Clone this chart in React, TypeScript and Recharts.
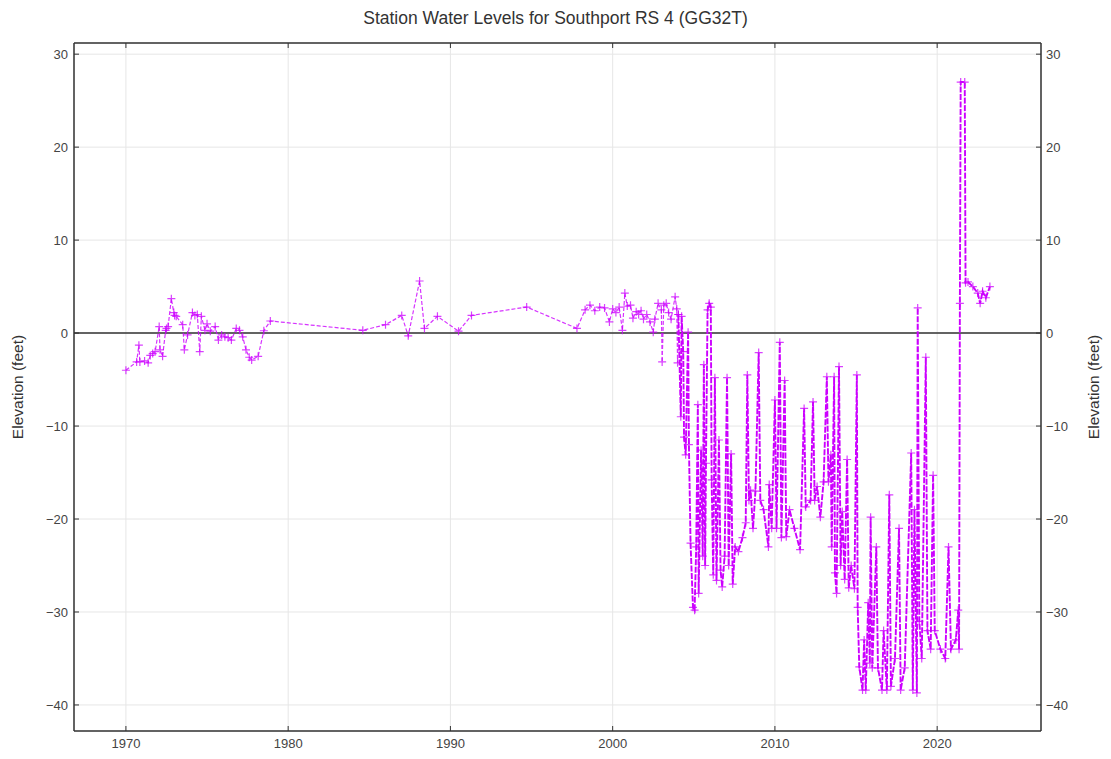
import React from 'react';
import { LineChart, Line, XAxis, YAxis, CartesianGrid, ReferenceLine } from 'recharts';

// measurement dates (decimal years) and water elevation (feet)
const years = [
  1970.0, 1970.66, 1970.8, 1970.86, 1971.15, 1971.37, 1971.5, 1971.65, 1971.8, 1972.05,
  1972.1, 1972.26, 1972.45, 1972.5, 1972.6, 1972.8, 1972.95, 1973.0, 1973.1, 1973.5,
  1973.6, 1973.8, 1974.1, 1974.25, 1974.4, 1974.55, 1974.65, 1974.87, 1975.0, 1975.2,
  1975.5, 1975.7, 1975.9, 1976.1, 1976.3, 1976.5, 1976.8, 1977.0, 1977.2, 1977.4,
  1977.6, 1977.75, 1978.15, 1978.5, 1978.9,
  1984.6, 1986.0, 1987.0, 1987.4, 1988.1, 1988.4, 1989.2, 1990.5, 1991.3, 1994.7,
  1997.8, 1998.3, 1998.6, 1998.9, 1999.2, 1999.5, 1999.8, 2000.0, 2000.2, 2000.4,
  2000.6, 2000.75, 2000.9, 2001.1, 2001.25, 2001.45, 2001.6, 2001.75, 2001.9, 2002.1,
  2002.3, 2002.5, 2002.6, 2002.8, 2003.0, 2003.05, 2003.15, 2003.3, 2003.45, 2003.6,
  2003.85, 2003.95, 2004.0, 2004.05, 2004.2, 2004.25, 2004.35, 2004.4, 2004.5, 2004.65,
  2004.7, 2004.8, 2004.95, 2005.05, 2005.15, 2005.25, 2005.3, 2005.45, 2005.55, 2005.62,
  2005.7, 2005.75, 2005.85, 2005.95, 2006.05, 2006.1, 2006.2, 2006.3, 2006.4, 2006.55,
  2006.65, 2006.75, 2006.9, 2007.05, 2007.15, 2007.3, 2007.4, 2007.55, 2007.75, 2008.0,
  2008.2, 2008.3, 2008.4, 2008.5, 2008.65, 2008.8, 2009.0, 2009.1, 2009.3, 2009.6,
  2009.65, 2009.8, 2010.0, 2010.1, 2010.3, 2010.4, 2010.6, 2010.7, 2010.9, 2011.2,
  2011.55, 2011.8, 2011.9, 2012.2, 2012.35, 2012.45, 2012.6, 2012.8, 2013.0, 2013.2,
  2013.3, 2013.45, 2013.5, 2013.65, 2013.7, 2013.8, 2013.95, 2014.05, 2014.15, 2014.3,
  2014.45, 2014.55, 2014.7, 2014.9, 2015.05, 2015.1, 2015.2, 2015.4, 2015.5, 2015.6,
  2015.75, 2015.85, 2015.9, 2016.0, 2016.25, 2016.35, 2016.6, 2016.7, 2016.9, 2017.05,
  2017.15, 2017.4, 2017.65, 2017.75, 2018.0, 2018.4, 2018.5, 2018.6, 2018.75, 2018.8,
  2018.9, 2019.05, 2019.3, 2019.4, 2019.6, 2019.75, 2019.85, 2020.2, 2020.5, 2020.7,
  2020.85, 2021.15, 2021.3, 2021.35, 2021.4, 2021.45, 2021.7, 2021.75, 2021.9, 2022.2,
  2022.5, 2022.65, 2022.8, 2023.0, 2023.25,
];

const levels = [
  -4.0, -3.1, -1.3, -3.1, -3.0, -3.2, -2.4, -2.2, -2.0, 0.7,
  -1.8, -2.5, 0.3, 0.5, 0.7, 3.7, 2.2, 1.9, 1.8, 0.9,
  -1.8, -0.2, 2.2, 1.9, 2.0, -2.0, 1.8, 0.3, 1.0, 0.2,
  0.7, -0.75, -0.2, -0.4, -0.5, -0.75, 0.5, 0.3, -0.4, -1.8,
  -2.6, -2.9, -2.5, 0.25, 1.3,
  0.3, 0.9, 1.9, -0.3, 5.6, 0.5, 1.8, 0.2, 1.9, 2.8,
  0.5, 2.5, 3.0, 2.4, 2.8, 2.7, 1.2, 2.6, 2.2, 2.8,
  0.3, 4.3, 2.9, 3.0, 1.6, 2.3, 2.0, 2.4, 1.5, 2.0,
  1.2, 0.1, 1.5, 3.2, 2.5, -3.1, 3.0, 3.2, 2.2, 1.5,
  3.9, 2.6, -3.2, 2.0, -9.0, 1.8, -2.0, -11.2, -13.1, 0.1,
  -12.0, -22.6, -29.5, -29.8, -23.0, -7.7, -28.0, -12.6, -24.0, -3.4,
  -25.0, -14.0, 2.5, 3.2, 2.8, -15.8, -26.0, -4.8, -26.6, -11.5,
  -25.5, -27.3, -24.0, -4.8, -25.0, -13.0, -27.0, -23.0, -23.5, -22.0,
  -20.4, -4.5, -18.0, -16.9, -21.0, -17.0, -2.1, -18.0, -19.0, -23.0,
  -16.3, -21.0, -7.2, -21.0, -1.0, -22.0, -5.1, -21.9, -19.0, -21.0,
  -23.3, -8.1, -18.7, -18.0, -7.4, -18.0, -16.5, -19.8, -16.0, -4.7,
  -16.0, -13.1, -23.0, -4.7, -25.8, -28.0, -3.6, -25.0, -19.2, -26.5,
  -13.6, -27.4, -25.0, -27.5, -4.5, -29.5, -35.9, -38.4, -33.0, -38.4,
  -29.0, -35.5, -19.8, -36.0, -23.0, -36.0, -38.4, -32.0, -38.4, -17.4,
  -38.0, -35.0, -21.0, -38.4, -36.0, -12.9, -38.4, -19.0, -38.7, 2.7,
  -31.0, -35.0, -2.6, -32.0, -34.0, -15.3, -32.0, -34.0, -35.0, -23.0,
  -34.0, -33.0, -29.8, -34.0, 3.2, 27.0, 27.0, 5.4, 5.5, 5.0,
  4.3, 3.2, 4.5, 3.8, 5.0,
];

const xTicks = [1970, 1980, 1990, 2000, 2010, 2020];
const yTicks = [-40, -30, -20, -10, 0, 10, 20, 30];

// the record gets dense (weekly readings) from mid-2004 on; draw that part heavier
const DENSE_FROM = 2004.05;

const data = years.map((year, i) => ({
  year,
  level: levels[i],
  sparse: year <= DENSE_FROM ? levels[i] : null,
  dense: year >= DENSE_FROM ? levels[i] : null,
}));

const LINE_COLOR = '#cc00ff';
const AXIS_COLOR = '#333';
const FONT = '"Liberation Sans", Arial, sans-serif';

const fmt = (v: number) => (v < 0 ? `\u2212${Math.abs(v)}` : `${v}`);

const PlusDot = (props: any) => {
  const { cx, cy, index, value } = props;
  if (cx == null || cy == null || value == null) return <g key={index} />;
  return (
    <path
      key={index}
      d={`M${cx - 4},${cy}h8M${cx},${cy - 4}v8`}
      stroke={LINE_COLOR}
      strokeOpacity={0.75}
      strokeWidth={1.2}
      fill="none"
    />
  );
};

const BottomTick = ({ x, y, payload }: any) => (
  <g>
    <line x1={x} x2={x} y1={y - 7} y2={y - 12} stroke={AXIS_COLOR} />
    <text x={x} y={y} dy="0.8em" textAnchor="middle" fill="#444" fontSize={13} fontFamily={FONT}>
      {payload.value}
    </text>
  </g>
);

const TopTick = ({ x, y }: any) => <line x1={x} x2={x} y1={y} y2={y + 5} stroke={AXIS_COLOR} />;

const LeftTick = ({ x, y, payload }: any) => (
  <g>
    <line x1={x + 6} x2={x + 11} y1={y} y2={y} stroke={AXIS_COLOR} />
    <text x={x} y={y} dy="0.35em" textAnchor="end" fill="#444" fontSize={13} fontFamily={FONT}>
      {fmt(payload.value)}
    </text>
  </g>
);

const RightTick = ({ x, y, payload }: any) => (
  <g>
    <line x1={x - 5} x2={x - 10} y1={y} y2={y} stroke={AXIS_COLOR} />
    <text x={x} y={y} dy="0.35em" textAnchor="start" fill="#444" fontSize={13} fontFamily={FONT}>
      {fmt(payload.value)}
    </text>
  </g>
);

const axisLabel: React.CSSProperties = {
  position: 'absolute',
  top: 379,
  transform: 'translate(-50%, -50%) rotate(-90deg)',
  whiteSpace: 'nowrap',
  fontSize: 15.5,
  color: '#333',
  fontFamily: FONT,
};

export default function App() {
  return (
    <div style={{ position: 'relative', width: 1095, height: 751, fontFamily: FONT }}>
      <div
        style={{
          position: 'absolute',
          top: 0,
          left: 0,
          width: 1095,
          textAlign: 'center',
          fontSize: 17.5,
          lineHeight: '21px',
          color: '#333',
        }}
      >
        Station Water Levels for Southport RS 4 (GG32T)
      </div>
      <div style={{ ...axisLabel, left: 10 }}>Elevation (feet)</div>
      <div style={{ ...axisLabel, left: 1086 }}>Elevation (feet)</div>
      <LineChart width={1095} height={751} data={data} margin={{ top: 34, right: 16, bottom: 0, left: 20 }}>
        <CartesianGrid xAxisId="bottom" yAxisId="left" stroke="#e6e6e6" strokeWidth={1} />
        <XAxis
          xAxisId="bottom"
          dataKey="year"
          type="number"
          domain={[1966.8, 2026.4]}
          ticks={xTicks}
          allowDataOverflow
          height={28}
          stroke={AXIS_COLOR}
          strokeWidth={1.5}
          tickSize={0}
          tickMargin={7}
          tick={BottomTick}
        />
        <XAxis
          xAxisId="top"
          orientation="top"
          dataKey="year"
          type="number"
          domain={[1966.8, 2026.4]}
          ticks={xTicks}
          allowDataOverflow
          height={1}
          stroke={AXIS_COLOR}
          strokeWidth={1.5}
          tickSize={0}
          tickMargin={0}
          tick={TopTick}
        />
        <YAxis
          yAxisId="left"
          type="number"
          domain={[-42.8, 31.2]}
          ticks={yTicks}
          allowDataOverflow
          width={46}
          stroke={AXIS_COLOR}
          strokeWidth={1.5}
          tickSize={0}
          tickMargin={6}
          tick={LeftTick}
        />
        <YAxis
          yAxisId="right"
          orientation="right"
          type="number"
          domain={[-42.8, 31.2]}
          ticks={yTicks}
          allowDataOverflow
          width={46}
          stroke={AXIS_COLOR}
          strokeWidth={1.5}
          tickSize={0}
          tickMargin={5}
          tick={RightTick}
        />
        <ReferenceLine xAxisId="bottom" yAxisId="left" y={0} stroke={AXIS_COLOR} strokeWidth={1.5} />
        <Line
          xAxisId="bottom"
          yAxisId="left"
          type="linear"
          dataKey="sparse"
          stroke={LINE_COLOR}
          strokeOpacity={0.8}
          strokeWidth={1.2}
          strokeDasharray="4 2"
          dot={PlusDot}
          activeDot={false}
          isAnimationActive={false}
        />
        <Line
          xAxisId="bottom"
          yAxisId="left"
          type="linear"
          dataKey="dense"
          stroke={LINE_COLOR}
          strokeWidth={1.9}
          strokeDasharray="6 1.5"
          dot={PlusDot}
          activeDot={false}
          isAnimationActive={false}
        />
        <Line
          xAxisId="top"
          yAxisId="right"
          dataKey="level"
          stroke="none"
          dot={false}
          activeDot={false}
          legendType="none"
          isAnimationActive={false}
        />
      </LineChart>
    </div>
  );
}
